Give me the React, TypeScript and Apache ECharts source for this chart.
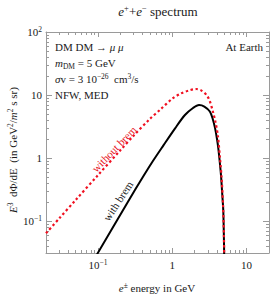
import React, { useEffect, useRef } from 'react';
import * as echarts from 'echarts';

// e± energy (GeV) and E^3 dPhi/dE (GeV^2 / m^2 s sr)
const withoutBremE = [0.02, 0.03, 0.05, 0.1, 0.2, 0.3, 0.5, 0.7, 1.0, 1.3, 1.7, 2.1, 2.5, 2.9, 3.2, 3.5, 3.8, 4.1, 4.4, 4.6, 4.8, 4.95, 5.0];
const withoutBremFlux = [0.065, 0.111, 0.218, 0.54, 1.34, 2.26, 4.2, 6.0, 8.8, 10.6, 11.9, 12.5, 11.7, 10.0, 8.0, 5.6, 3.8, 2.3, 0.95, 0.5, 0.2, 0.06, 0.02];
const withBremE = [0.097, 0.25, 0.4, 0.53, 0.76, 1.09, 1.48, 1.9, 2.29, 2.7, 3.2, 3.5, 3.76, 4.0, 4.16, 4.35, 4.52, 4.7, 4.86, 5.0];
const withBremFlux = [0.03, 0.2, 0.5, 0.85, 1.6, 2.98, 4.84, 6.25, 6.97, 6.6, 5.5, 4.2, 3.0, 2.0, 1.44, 0.88, 0.54, 0.27, 0.142, 0.025];

const xRange = [0.02, 20];
const yRange = [0.0316, 100];
const xMajorTicks = [0.1, 1, 10];
const xMinorTicks = [0.02, 0.03, 0.04, 0.05, 0.06, 0.07, 0.08, 0.09, 0.2, 0.3, 0.4, 0.5, 0.6, 0.7, 0.8, 0.9, 2, 3, 4, 5, 6, 7, 8, 9];
const yMajorTicks = [0.1, 1, 10, 100];
const yMinorTicks = [0.04, 0.05, 0.06, 0.07, 0.08, 0.09, 0.2, 0.3, 0.4, 0.5, 0.6, 0.7, 0.8, 0.9, 2, 3, 4, 5, 6, 7, 8, 9, 20, 30, 40, 50, 60, 70, 80, 90];

const lg = (v: number) => Math.log10(v);
const serif = "'Liberation Serif', 'DejaVu Serif', serif";
const frameColor = '#9a9a9a';
const textColor = '#1a1a1a';

const axisRich = {
  n: { fontSize: 11, fontFamily: serif, color: textColor, lineHeight: 14 },
  s: { fontSize: 7.5, fontFamily: serif, color: textColor, verticalAlign: 'top', lineHeight: 8 },
};

function powLabel(v: number) {
  const e = Math.round(v);
  if (e === 0) return '{n|1}';
  if (e === 1) return '{n|10}';
  return '{n|10}{s|' + String(e).replace('-', '\u2212') + '}';
}

function xAxisDef(position: string, ticks: number[], len: number, labels: boolean, line: boolean) {
  return {
    type: 'value',
    min: lg(xRange[0]),
    max: lg(xRange[1]),
    position,
    axisLine: { show: line, onZero: false, lineStyle: { color: frameColor, width: 1 } },
    axisTick: { show: true, inside: true, length: len, customValues: ticks.map(lg), lineStyle: { color: frameColor, width: 1 } },
    axisLabel: labels
      ? { show: true, customValues: ticks.map(lg), formatter: powLabel, rich: axisRich, margin: 5 }
      : { show: false },
    splitLine: { show: false },
  };
}

function yAxisDef(position: string, ticks: number[], len: number, labels: boolean, line: boolean) {
  return {
    type: 'value',
    min: lg(yRange[0]),
    max: lg(yRange[1]),
    position,
    axisLine: { show: line, onZero: false, lineStyle: { color: frameColor, width: 1 } },
    axisTick: { show: true, inside: true, length: len, customValues: ticks.map(lg), lineStyle: { color: frameColor, width: 1 } },
    axisLabel: labels
      ? { show: true, customValues: ticks.map(lg), formatter: powLabel, rich: axisRich, margin: 4 }
      : { show: false },
    splitLine: { show: false },
  };
}

const gRich = {
  n: { fontSize: 11, fontFamily: serif, fill: textColor, lineHeight: 14 },
  i: { fontSize: 11, fontFamily: serif, fontStyle: 'italic', fill: textColor, lineHeight: 14 },
  s: { fontSize: 7.5, fontFamily: serif, fill: textColor, verticalAlign: 'top', lineHeight: 8 },
  d: { fontSize: 7.5, fontFamily: serif, fill: textColor, verticalAlign: 'bottom', lineHeight: 8 },
};

function gText(x: number, y: number, text: string, align: string, extra: any = {}) {
  return {
    type: 'text',
    x,
    y,
    rotation: extra.rotation || 0,
    style: {
      text,
      rich: extra.rich || gRich,
      align,
      textAlign: align,
      verticalAlign: 'middle',
      textVerticalAlign: 'middle',
      fontSize: 11,
      fontFamily: serif,
      fill: extra.fill || textColor,
    },
  };
}

const titleRich = {
  n: { fontSize: 13, fontFamily: serif, fill: textColor, lineHeight: 16 },
  i: { fontSize: 13, fontFamily: serif, fontStyle: 'italic', fill: textColor, lineHeight: 16 },
  s: { fontSize: 8.5, fontFamily: serif, fill: textColor, verticalAlign: 'top', lineHeight: 9 },
};

const redRich = {
  n: { fontSize: 11, fontFamily: serif, fill: '#e8141c' },
};

const option = {
  animation: false,
  grid: { left: 46, top: 32, right: 5, bottom: 41 },
  xAxis: [
    xAxisDef('bottom', xMajorTicks, 5, true, true),
    xAxisDef('bottom', xMinorTicks, 3, false, false),
    xAxisDef('top', xMajorTicks, 5, false, true),
    xAxisDef('top', xMinorTicks, 3, false, false),
  ],
  yAxis: [
    yAxisDef('left', yMajorTicks, 6, true, true),
    yAxisDef('left', yMinorTicks, 3, false, false),
    yAxisDef('right', yMajorTicks, 6, false, true),
    yAxisDef('right', yMinorTicks, 3, false, false),
  ],
  series: [
    {
      type: 'line',
      xAxisIndex: 0,
      yAxisIndex: 0,
      data: withBremE.map((e, i) => [lg(e), lg(withBremFlux[i])]),
      symbol: 'none',
      smooth: 0.3,
      clip: true,
      lineStyle: { color: '#000', width: 2 },
      z: 2,
    },
    {
      type: 'line',
      xAxisIndex: 0,
      yAxisIndex: 0,
      data: withoutBremE.map((e, i) => [lg(e), lg(withoutBremFlux[i])]),
      symbol: 'none',
      smooth: 0.3,
      clip: true,
      lineStyle: { color: '#f01020', width: 2.2, type: [2.4, 2.6] },
      z: 3,
    },
  ],
  graphic: [
    gText(158, 11, '{i|e}{s|+}{n|+}{i|e}{s|\u2212}{n| spectrum}', 'center', { rich: titleRich }),
    gText(55, 47, '{n|DM DM \u2192 }{i|\u03bc \u03bc}', 'left'),
    gText(55, 63, '{i|m}{d|DM}{n| = 5 GeV}', 'left'),
    gText(55, 79, '{i|\u03c3}{n|v = 3 10}{s|\u221226}{n|  cm}{s|3}{n|/s}', 'left'),
    gText(55, 95, '{n|NFW, MED}', 'left'),
    gText(263, 47, '{n|At Earth}', 'right'),
    gText(13, 150, '{i|E}{s|3}{n|  d\u03a6/dE  (in GeV}{s|2}{n|/}{i|m}{s|2}{n| s sr)}', 'center', { rotation: Math.PI / 2 }),
    gText(157, 288, '{i|e}{s|\u00b1}{n| energy in GeV}', 'center'),
    gText(114, 149, '{n|without brem}', 'center', { rotation: (46 * Math.PI) / 180, rich: redRich, fill: '#e8141c' }),
    gText(118, 201, '{n|with brem}', 'center', { rotation: (57 * Math.PI) / 180 }),
  ],
};

export default function App() {
  const ref = useRef<HTMLDivElement>(null);
  useEffect(() => {
    const chart = echarts.init(ref.current as HTMLDivElement, null, { renderer: 'svg' });
    chart.setOption(option as any);
    return () => chart.dispose();
  }, []);
  return <div ref={ref} style={{ position: 'absolute', left: 0, top: 0, width: 274, height: 294 }} />;
}
